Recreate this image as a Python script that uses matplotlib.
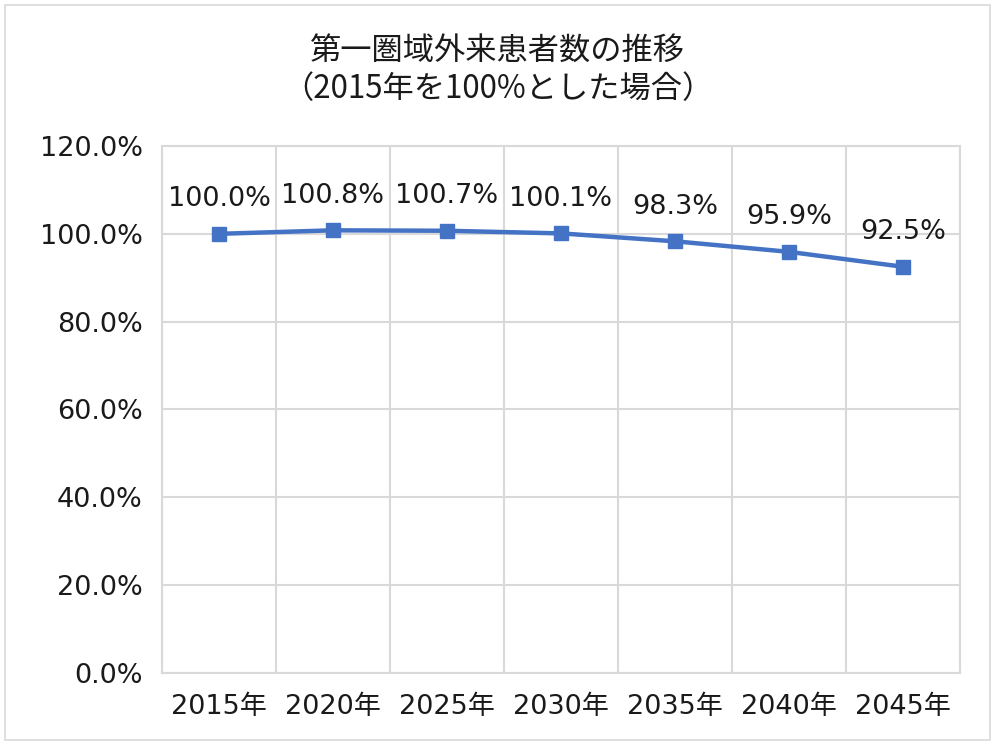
import matplotlib
matplotlib.use("Agg")
import matplotlib.pyplot as plt
from matplotlib.patches import Rectangle

plt.rcParams['font.family'] = ['DejaVu Sans', 'Noto Sans CJK JP']

categories = ["2015年", "2020年", "2025年", "2030年", "2035年", "2040年", "2045年"]
values = [100.0, 100.8, 100.7, 100.1, 98.3, 95.9, 92.5]
yticks = [0, 20, 40, 60, 80, 100, 120]
title = "第一圏域外来患者数の推移\n（2015年を100%とした場合）"

FS = 19.5
fig = plt.figure(figsize=(9.95, 7.45), dpi=100)
fig.patches.append(Rectangle((5/995, 5/745), 985/995, 735/745, transform=fig.transFigure,
                             fill=False, edgecolor='#d9d9d9', linewidth=1.2))
ax = fig.add_axes([162/995, 72/745, 798/995, 527/745])

x = list(range(len(categories)))
ax.plot(x, values, color='#4472C4', linewidth=3.2, marker='s', markersize=9.5, zorder=3)
for xi, v in zip(x, values):
    ax.annotate(f"{v:.1f}%", (xi, v), xytext=(0, 25), textcoords='offset points',
                ha='center', va='center', fontsize=FS, color='#1a1a1a')

ax.set_xlim(-0.5, len(categories) - 0.5)
ax.set_ylim(0, 120)
ax.set_yticks(yticks)
ax.set_yticklabels([f"{t:.1f}%" for t in yticks], fontsize=FS, color='#1a1a1a')
ax.set_xticks(x)
ax.set_xticklabels(categories, fontsize=FS, color='#1a1a1a')
ax.set_xticks([i + 0.5 for i in range(-1, len(categories))], minor=True)
ax.grid(True, which='major', axis='y', color='#d9d9d9', linewidth=1.5)
ax.grid(True, which='minor', axis='x', color='#d9d9d9', linewidth=1.5)
ax.tick_params(axis='both', which='both', length=0)
ax.tick_params(axis='y', pad=14)
ax.tick_params(axis='x', pad=15)
for s in ax.spines.values():
    s.set_color('#d9d9d9')
    s.set_linewidth(1.5)
ax.set_axisbelow(True)

fig.text(0.5, 1 - 70/745, title, ha='center', va='center', fontsize=22.5, color='#1a1a1a',
         linespacing=1.25, family=['Noto Sans CJK JP', 'DejaVu Sans'])

fig.savefig("out.png", dpi=100)
